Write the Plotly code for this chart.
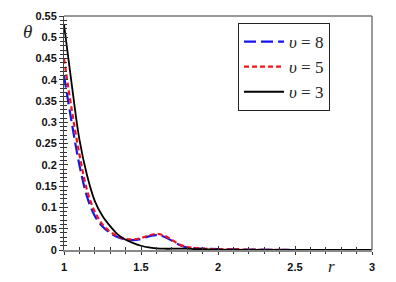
import plotly.graph_objects as go

r = [1.0, 1.05, 1.1, 1.15, 1.2, 1.25, 1.3, 1.35, 1.4, 1.45, 1.5, 1.55, 1.6,
     1.65, 1.7, 1.75, 1.8, 1.85, 1.9, 2.0, 2.2, 2.5, 3.0]
theta_v8 = [0.41, 0.30, 0.20, 0.125, 0.08, 0.055, 0.040, 0.030, 0.025, 0.023, 0.026,
            0.032, 0.035, 0.031, 0.022, 0.012, 0.006, 0.004, 0.003, 0.002, 0.001, 0.0, 0.0]
theta_v5 = [0.45, 0.33, 0.225, 0.14, 0.09, 0.06, 0.043, 0.032, 0.026, 0.025, 0.028,
            0.034, 0.038, 0.034, 0.024, 0.013, 0.007, 0.005, 0.003, 0.002, 0.001, 0.0, 0.0]
theta_v3 = [0.53, 0.39, 0.26, 0.175, 0.115, 0.08, 0.056, 0.036, 0.024, 0.016, 0.010,
            0.006, 0.004, 0.003, 0.003, 0.003, 0.003, 0.002, 0.002, 0.001, 0.0005, 0.0, 0.0]
names = ["<i>υ</i> = 8", "<i>υ</i> = 5", "<i>υ</i> = 3"]
x_ticks = [1, 1.5, 2, 2.5, 3]
x_ticktext = ["1", "1.5", "2", "2.5", "3"]
y_ticks = [0, 0.05, 0.1, 0.15, 0.2, 0.25, 0.3, 0.35, 0.4, 0.45, 0.5, 0.55]
y_ticktext = ["0", "0.05", "0.1", "0.15", "0.2", "0.25", "0.3", "0.35", "0.4", "0.45", "0.5", "0.55"]

fig = go.Figure()
fig.add_trace(go.Scatter(x=r, y=theta_v8, mode="lines", name=names[0], line_shape="spline",
                         line=dict(color="#1515f0", width=2.2, dash="12px,5px")))
fig.add_trace(go.Scatter(x=r, y=theta_v5, mode="lines", name=names[1], line_shape="spline",
                         line=dict(color="#f01515", width=2.2, dash="5px,3px")))
fig.add_trace(go.Scatter(x=r, y=theta_v3, mode="lines", name=names[2], line_shape="spline",
                         line=dict(color="black", width=1.8)))
fig.add_trace(go.Scatter(x=[], y=[], xaxis="x2", yaxis="y2", showlegend=False))

tickfont = dict(family="Liberation Sans", size=11, color="#111", weight="bold")
common_x = dict(range=[1, 3], tickvals=x_ticks, ticktext=x_ticktext, showgrid=False, zeroline=False)
common_y = dict(range=[0, 0.55], tickvals=y_ticks, ticktext=y_ticktext, showgrid=False, zeroline=False)

fig.update_layout(
    width=388, height=274,
    margin=dict(l=56, r=24, t=8, b=32, autoexpand=False),
    paper_bgcolor="white", plot_bgcolor="white",
    showlegend=True,
    xaxis=dict(**common_x, ticks="outside", ticklen=3, tickcolor="#333", tickwidth=1,
               showline=True, linecolor="#888", linewidth=2, tickfont=tickfont,
               ticklabelstandoff=3,
               minor=dict(dtick=0.1, ticks="outside", ticklen=2, tickcolor="#333")),
    yaxis=dict(**common_y, ticks="outside", ticklen=4, tickcolor="#333", tickwidth=1,
               showline=True, linecolor="#444", linewidth=1, tickfont=tickfont,
               minor=dict(dtick=0.01, ticks="outside", ticklen=3, tickcolor="#333")),
    xaxis2=dict(**common_x, overlaying="x", anchor="y2", ticks="inside", ticklen=4,
                tickcolor="#333", showticklabels=False, showline=False,
                minor=dict(dtick=0.1, ticks="inside", ticklen=3, tickcolor="#333")),
    yaxis2=dict(**common_y, overlaying="y", anchor="x2", side="left", ticks="inside", ticklen=4,
                tickcolor="#333", showticklabels=False, showline=False,
                minor=dict(dtick=0.01, ticks="inside", ticklen=3, tickcolor="#333")),
    legend=dict(x=0.565, y=0.97, xanchor="left", yanchor="top",
                bgcolor="white", bordercolor="#222", borderwidth=1,
                font=dict(family="Liberation Serif", size=17, color="#222"),
                tracegroupgap=0, itemwidth=40),
    shapes=[
        dict(type="line", xref="paper", yref="paper", x0=0, x1=1, y0=1, y1=1,
             line=dict(color="#333", width=1)),
        dict(type="line", xref="paper", yref="paper", x0=1, x1=1, y0=0, y1=1,
             line=dict(color="#777", width=1.5)),
    ],
    annotations=[
        dict(text="<i>θ</i>", xref="paper", yref="paper", x=-0.117, y=0.935,
             xanchor="center", yanchor="middle",
             showarrow=False, font=dict(family="Liberation Serif", size=19, color="#222")),
        dict(text="<i>r</i>", xref="paper", yref="paper", x=0.87, y=-0.07,
             xanchor="center", yanchor="middle",
             showarrow=False, font=dict(family="Liberation Serif", size=17, color="#222")),
    ],
)

fig.write_html("out.html")
